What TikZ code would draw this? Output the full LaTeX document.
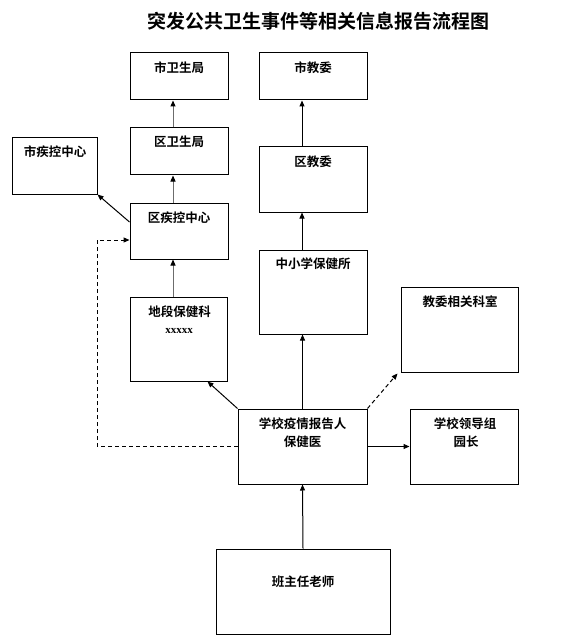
\documentclass[tikz,border=0pt]{standalone}
\usepackage{fontspec}
\setmainfont{Noto Sans CJK SC}[BoldFont={Noto Sans CJK SC Bold}]
\newfontfamily\latinserif{Liberation Serif}
\usetikzlibrary{arrows.meta}
\begin{document}
\begin{tikzpicture}[x=1pt,y=-1pt,
  box/.style={draw=black,line width=1pt,inner sep=0pt,rectangle},
  lbl/.style={font=\bfseries\fontsize{12.5}{14}\selectfont,inner sep=0pt,align=center},
  arr/.style={line width=1pt,-{Triangle[length=6pt,width=5pt,black]}},
  garr/.style={arr,draw=gray!85!black},
  darr/.style={arr,dashed,dash pattern=on 4pt off 3pt}]
\useasboundingbox (0,0) rectangle (570,639);
% title
\node[inner sep=0pt,font=\bfseries\fontsize{19}{21}\selectfont] (title) at (318.5,21) {突发公共卫生事件等相关信息报告流程图};
% boxes
\node[box,minimum width=98pt,minimum height=47pt] (swj) at (179,76.5) {};
\node[box,minimum width=98pt,minimum height=47pt] (qwj) at (179,151.5) {};
\node[box,minimum width=85pt,minimum height=56pt] (sjk) at (54.5,166) {};
\node[box,minimum width=98pt,minimum height=56pt] (qjk) at (179,231) {};
\node[box,minimum width=97pt,minimum height=84pt] (dd) at (178.5,339) {};
\node[box,minimum width=108pt,minimum height=47pt] (sjw) at (313,76.5) {};
\node[box,minimum width=108pt,minimum height=65pt] (qjw) at (313,179.5) {};
\node[box,minimum width=108pt,minimum height=84pt] (zxx) at (313,292) {};
\node[box,minimum width=117pt,minimum height=85pt] (jwks) at (459.5,329.5) {};
\node[box,minimum width=129pt,minimum height=75pt] (xx) at (302.5,446.5) {};
\node[box,minimum width=108pt,minimum height=75pt] (ld) at (464,446.5) {};
\node[box,minimum width=174pt,minimum height=85pt] (bzr) at (303,591.5) {};
% labels
\node[lbl] (t1) at (179,68) {市卫生局};
\node[lbl] (t2) at (179,142) {区卫生局};
\node[lbl] (t3) at (55,152) {市疾控中心};
\node[lbl] (t4) at (179,218) {区疾控中心};
\node[lbl] (t5) at (179.5,312) {地段保健科};
\node[inner sep=0pt,font=\latinserif\bfseries\fontsize{11}{12}\selectfont] (t5b) at (179,330.5) {xxxxx};
\node[lbl] (t6) at (313,68) {市教委};
\node[lbl] (t7) at (313,162) {区教委};
\node[lbl] (t8) at (313,264) {中小学保健所};
\node[lbl] (t9) at (460,302) {教委相关科室};
\node[lbl] (t10) at (302.5,424) {学校疫情报告人};
\node[lbl] (t10b) at (302.5,442) {保健医};
\node[lbl] (t11) at (465,424) {学校领导组};
\node[lbl] (t11b) at (466,442) {园长};
\node[lbl] (t12) at (303,582) {班主任老师};
% connectors
\draw[garr] ([xshift=-6pt]qwj.north) -- ([xshift=-6pt]swj.south);
\draw[garr] ([xshift=-6pt]qjk.north) -- ([xshift=-6pt]qwj.south);
\draw[garr] ([xshift=-5.5pt]dd.north) -- ([xshift=-6pt]qjk.south);
\draw[arr] ([xshift=-11pt]qjw.north) -- ([xshift=-11pt]sjw.south);
\draw[arr] ([xshift=-11pt]zxx.north) -- ([xshift=-11pt]qjw.south);
\draw[arr] (xx.north) -- (xx.north |- zxx.south);
\draw[arr] ([yshift=9pt]qjk.west) -- (sjk.south east);
\coordinate (dc) at (97,446.5);
\draw[darr] (xx.west) -- (dc) |- ([yshift=-9pt]qjk.west);
\draw[arr] (xx.north west) -- ([xshift=-20pt]dd.south east);
\draw[darr] (xx.north east) -- ([xshift=-3pt,yshift=-1pt]jwks.south west);
\draw[arr] (xx.east) -- (ld.west);
\draw[arr] (bzr.north) -- (xx.south);
\end{tikzpicture}
\end{document}
